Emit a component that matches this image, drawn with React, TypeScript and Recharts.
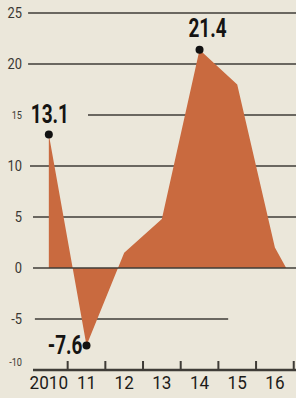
import { AreaChart, Area, XAxis, YAxis, ReferenceLine } from "recharts";

// growth, % (2010 - 2016)
const years = [2010, 2011, 2012, 2013, 2014, 2015, 2016, 2016.3];
const values = [13.1, -7.6, 1.5, 4.8, 21.4, 18.0, 2.0, 0];
const labelled = [2010, 2011, 2014];

const yTicks = [-10, -5, 0, 5, 10, 15, 20, 25];
const xLabelTicks = [2010, 2011, 2012, 2013, 2014, 2015, 2016];
const xDomain = [2009.58, 2016.56];

// horizontal rules: value, start year, end year
const rules = [
  { y: 25, from: 2009.45, to: 2016.56 },
  { y: 20, from: 2009.45, to: 2016.56 },
  { y: 15, from: 2011.04, to: 2016.56 },
  { y: 10, from: 2009.5, to: 2016.56 },
  { y: 5, from: 2009.58, to: 2016.56 },
  { y: -5, from: 2009.63, to: 2014.76 },
];

const data = years.map((year, i) => ({ year, value: values[i] }));

const W = 296;
const H = 398;
const Y_AXIS_W = 33;
const YEAR_STEP = (W - Y_AXIS_W) / (xDomain[1] - xDomain[0]);

const FONT = "Roboto, 'Liberation Sans', sans-serif";
const INK = "#1c1b19";
const RULE = "#3f3c37";

const YTick = (props: any) => {
  const { y, payload } = props;
  const v = payload.value;
  const small = v === 15 || v === -10;
  return (
    <text
      transform={`translate(22,${v === -10 ? y - 8 : y}) scale(0.92,1)`}
      dy={small ? 3.5 : 5}
      textAnchor="end"
      fontSize={small ? 10 : 14}
      fontFamily={FONT}
      fill="#3a3833"
    >
      {v}
    </text>
  );
};

// year label, plus an upward tick mark on the boundary after that year
const XTick = (props: any) => {
  const { x, y, payload } = props;
  const yr = payload.value;
  const bx = x + YEAR_STEP / 2;
  return (
    <g>
      <rect x={bx - 1} y={y - 9} width={2} height={10} fill={RULE} />
      <text
        transform={`translate(${x},${y}) scale(0.9,1)`}
        dy={19}
        textAnchor="middle"
        fontSize={19}
        fontFamily={FONT}
        fill={INK}
      >
        {yr === 2010 ? "2010" : String(yr).slice(2)}
      </text>
    </g>
  );
};

const Marker = (props: any) => {
  const { cx, cy, payload, index } = props;
  if (!labelled.includes(payload.year)) return <g key={index} />;
  const v = payload.value;
  let tx = cx + 1;
  let ty = cy - 11;
  let anchor: "middle" | "end" = "middle";
  if (v < 0) {
    tx = cx - 4;
    ty = cy + 8;
    anchor = "end";
  } else if (payload.year === 2014) {
    tx = cx + 8;
    ty = cy - 13;
  }
  return (
    <g key={index}>
      <circle cx={cx} cy={cy} r={4} fill="#111" />
      <text
        transform={`translate(${tx},${ty}) scale(0.76,1)`}
        textAnchor={anchor}
        fontSize={25}
        fontWeight="bold"
        fontFamily={FONT}
        fill="#151412"
      >
        {v.toFixed(1)}
      </text>
    </g>
  );
};

export default function App() {
  return (
    <div
      style={{
        position: "fixed",
        top: 0,
        left: 0,
        width: W,
        height: H,
        overflow: "hidden",
        background: "#ebe7da",
      }}
    >
      <AreaChart
        width={W}
        height={H}
        data={data}
        margin={{ top: 13, right: 0, bottom: 0, left: 0 }}
      >
        <XAxis
          dataKey="year"
          type="number"
          domain={xDomain}
          ticks={xLabelTicks}
          height={28}
          axisLine={{ stroke: RULE, strokeWidth: 2.5 }}
          tickLine={false}
          tickSize={0}
          tickMargin={0}
          tick={<XTick />}
        />
        <YAxis
          domain={[-10, 25]}
          ticks={yTicks}
          width={Y_AXIS_W}
          axisLine={false}
          tickLine={false}
          tick={<YTick />}
        />
        {rules.map((r) => (
          <ReferenceLine
            key={`rule-${r.y}`}
            segment={[
              { x: r.from, y: r.y },
              { x: r.to, y: r.y },
            ]}
            ifOverflow="visible"
            stroke={RULE}
            strokeWidth={1.5}
            zIndex={50}
          />
        ))}
        <Area
          type="linear"
          dataKey="value"
          baseValue={0}
          stroke="none"
          fill="#c96a3f"
          fillOpacity={1}
          dot={<Marker />}
          activeDot={false}
          isAnimationActive={false}
        />
        <ReferenceLine
          key="zero"
          segment={[
            { x: xDomain[0], y: 0 },
            { x: xDomain[1], y: 0 },
          ]}
          stroke={RULE}
          strokeWidth={1.5}
        />
      </AreaChart>
    </div>
  );
}
